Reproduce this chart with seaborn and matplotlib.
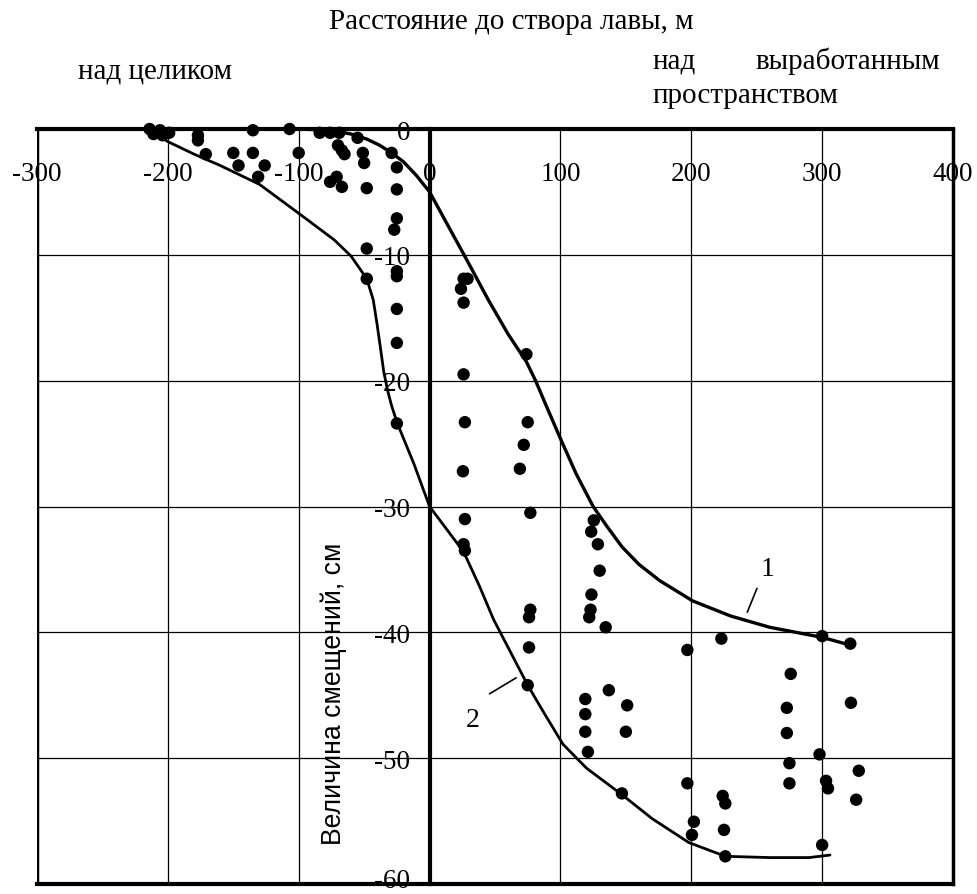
import matplotlib
matplotlib.use('Agg')
import matplotlib.pyplot as plt
from matplotlib.transforms import ScaledTranslation
import seaborn as sns
import pandas as pd

# ---- data ----
x_ticks = [-300, -200, -100, 0, 100, 200, 300, 400]
x_tick_labels = ['-300', '-200', '-100', '0', '100', '200', '300', '400']
y_ticks = [0, -10, -20, -30, -40, -50, -60]
y_tick_labels = ['0', '-10', '-20', '-30', '-40', '-50', '-60']

points_x = [-214, -211, -206, -204, -199, -177, -177, -171, -150, -135, -146, -126, -131,
            -135, -107, -100, -84, -76, -69, -55, -70, -67, -65, -51, -50, -76, -71, -67,
            -48, -29, -25, -25, -25, -27, -48, -48, -25, -25, -25, -25, -25,
            26, 29, 24, 26, 74, 26, 27, 75, 72, 69, 25.5, 77, 27, 26, 27,
            125.5, 123.5, 128.6, 130, 123.7, 123, 122, 134.6, 77, 76,
            76, 75, 137, 119, 119, 119, 121, 151, 150, 147, 197, 223, 300, 321.5,
            276, 322, 273, 273, 275, 275, 298, 328, 303, 304.5, 326, 197, 202, 200.5,
            224, 226, 225, 226, 300]
points_y = [0, -0.4, -0.1, -0.5, -0.3, -0.5, -0.9, -2.0, -1.9, -1.9, -2.9, -2.9, -3.8,
            -0.1, 0, -1.9, -0.3, -0.3, -0.3, -0.7, -1.3, -1.7, -2.0, -1.9, -2.7, -4.2, -3.8, -4.6,
            -4.7, -1.9, -3.05, -4.8, -7.1, -8.0, -9.5, -11.9, -11.3, -11.7, -14.3, -17.0, -23.4,
            -11.9, -11.9, -12.7, -13.8, -17.9, -19.5, -23.3, -23.3, -25.1, -27.0, -27.2, -30.5, -31.0, -33.0, -33.5,
            -31.1, -32.0, -33.0, -35.1, -37.0, -38.2, -38.8, -39.6, -38.2, -38.8,
            -41.2, -44.2, -44.6, -45.3, -46.5, -47.9, -49.5, -45.8, -47.9, -52.8, -41.4, -40.5, -40.3, -40.9,
            -43.3, -45.6, -46.0, -48.0, -50.4, -52.0, -49.7, -51.0, -51.8, -52.4, -53.3, -52.0, -55.05, -56.1,
            -53.0, -53.6, -55.7, -57.8, -56.9]

curve1_x = [-220, -150, -100, -75, -60, -48, -38, -29, -20, -10, 0, 10, 20, 30, 45, 60, 74, 81,
            90, 100, 112, 125, 135, 147, 160, 176, 201, 230, 260, 300, 321]
curve1_y = [0, 0, 0, -0.1, -0.4, -0.8, -1.3, -1.9, -2.6, -3.7, -5.0, -6.9, -8.8, -10.7, -13.6,
            -16.3, -18.5, -20.0, -22.2, -24.6, -27.4, -30.0, -31.5, -33.2, -34.6, -35.9, -37.5,
            -38.7, -39.6, -40.4, -41.0]

curve2_x = [-215, -200, -180, -160, -130, -100, -73, -60, -48, -43, -40, -37, -35, -32, -29,
            -24.6, -12, 0, 13, 26, 38, 49, 62, 75, 88, 102, 120, 147, 170, 198, 226, 260, 290, 306]
curve2_y = [0, -1.0, -2.0, -2.9, -4.4, -6.7, -8.8, -10.1, -11.9, -13.6, -15.6, -17.8, -19.3,
            -20.8, -22.0, -23.4, -26.6, -30.0, -31.8, -33.6, -36.3, -39.0, -41.6, -44.2, -46.5,
            -48.9, -50.8, -52.9, -54.8, -56.7, -57.8, -57.9, -57.9, -57.7]

title_text = 'Расстояние до створа лавы, м'
left_note = 'над целиком'
right_note_1a = 'над'
right_note_1b = 'выработанным'
right_note_2 = 'пространством'
y_label = 'Величина смещений, см'

# ---- style ----
sns.set_theme(style='white')
plt.rcParams['font.family'] = ['Liberation Serif', 'DejaVu Serif']
plt.rcParams['axes.unicode_minus'] = False
plt.rcParams['text.color'] = 'black'

W, H = 978, 895
fig = plt.figure(figsize=(W / 100, H / 100), dpi=100)
ax = fig.add_axes([37 / W, 10 / H, 916 / W, 755 / H])

pts = pd.DataFrame({'x': points_x, 'y': points_y})
sns.scatterplot(data=pts, x='x', y='y', color='black', s=80, edgecolor='none',
                ax=ax, legend=False, zorder=5, clip_on=False)
sns.lineplot(x=curve1_x, y=curve1_y, sort=False, estimator=None, color='black',
             lw=2.4, ax=ax, zorder=4)
sns.lineplot(x=curve2_x, y=curve2_y, sort=False, estimator=None, color='black',
             lw=2.0, ax=ax, zorder=4)

ax.set_xlim(-300, 400)
ax.set_ylim(-60, 0)
ax.set_xlabel('')
ax.set_ylabel('')

ax.grid(True, color='black', lw=0.9)
ax.set_axisbelow(True)

for s in ['top', 'bottom', 'right', 'left']:
    ax.spines[s].set_color('black')
    ax.spines[s].set_visible(True)
ax.spines['top'].set_linewidth(3)
ax.spines['bottom'].set_linewidth(3)
ax.spines['right'].set_linewidth(2.5)
ax.spines['left'].set_position(('data', 0))
ax.spines['left'].set_linewidth(3)
ax.axvline(-300, color='black', lw=2.5, zorder=3)

ax.set_xticks(x_ticks, x_tick_labels)
ax.xaxis.tick_top()
ax.tick_params(axis='x', length=0, pad=-41, labelsize=19.5, colors='black')
ax.set_yticks(y_ticks, y_tick_labels)
ax.tick_params(axis='y', length=0, pad=14, labelsize=19.5, colors='black')
# lift the bottom label a little so it stays inside the picture
last = ax.get_yticklabels()[-1]
last.set_transform(last.get_transform() + ScaledTranslation(0, 6 / 100, fig.dpi_scale_trans))

# axis title / notes
fig.text(511 / W, 1 - 22 / H, title_text, ha='center', va='center', fontsize=21)
fig.text(78 / W, 1 - 71 / H, left_note, ha='left', va='center', fontsize=21)
fig.text(653 / W, 1 - 61 / H, right_note_1a, ha='left', va='center', fontsize=21)
fig.text(940 / W, 1 - 61 / H, right_note_1b, ha='right', va='center', fontsize=21)
fig.text(653 / W, 1 - 96 / H, right_note_2, ha='left', va='center', fontsize=21)

ax.text(-73, -44.8, y_label, rotation=90, ha='center', va='center', fontsize=19.2,
        family=['Liberation Sans', 'DejaVu Sans'])

# curve labels with leaders
ax.text(258, -34.9, '1', ha='center', va='center', fontsize=20)
ax.annotate('', xy=(242, -38.6), xytext=(251, -36.3),
            arrowprops=dict(arrowstyle='-', color='black', lw=1.2))
ax.text(32.6, -46.9, '2', ha='center', va='center', fontsize=20)
ax.annotate('', xy=(68, -43.5), xytext=(44, -45.0),
            arrowprops=dict(arrowstyle='-', color='black', lw=1.2))

fig.savefig('out.png', dpi=100)
